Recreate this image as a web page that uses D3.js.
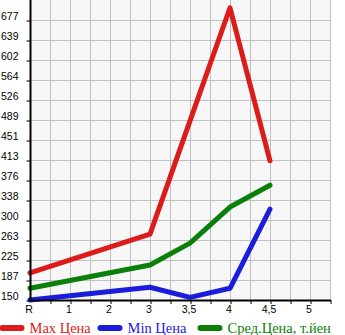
<!DOCTYPE html>
<html><head><meta charset="utf-8">
<script src="https://cdn.jsdelivr.net/npm/d3@7"></script>
<style>body{margin:0;background:#fff}svg{display:block}</style>
</head><body>
<svg id="c" width="345" height="335"></svg>
<script>
const categories = ["R","1","2","3","3,5","4","4,5","5"];
const yLabels = ["150","187","225","263","300","338","376","413","451","489","526","564","602","639","677"];
const maxPrice = [201, null, null, 274, 487, 700, 412];
const minPrice = [150, null, null, 174, 155, 172, 321];
const avgPrice = [172, null, null, 216, 257, 325, 366];
const seriesNames = ["Max Цена","Min Цена","Сред.Цена, т.йен"];
const seriesColors = ["#dc1b1b","#1c1cdc","#0a800a"];

const svg = d3.select("#c");
const x = d3.scaleLinear().domain([0, 7.5]).range([30, 330]);
const y = d3.scaleLinear().domain([150, 677]).range([300, 20]);
const yVals = yLabels.map((d,i)=>150 + i*(527/14));

// plot background
svg.append("rect").attr("x",x(0)).attr("y",0).attr("width",x(7.5)-x(0)).attr("height",y(150))
  .attr("fill","#f7f7f7");
// grid
const grid = svg.append("g").attr("stroke","#c0c0c0").attr("stroke-width",1);
d3.range(0.5, 7.51, 0.5).forEach(v=>{
  grid.append("line").attr("x1",Math.round(x(v))+0.5).attr("x2",Math.round(x(v))+0.5).attr("y1",0).attr("y2",y(150));
});
yVals.slice(1).forEach(v=>{
  grid.append("line").attr("x1",x(0)).attr("x2",x(7.5)+1).attr("y1",Math.round(y(v))+0.5).attr("y2",Math.round(y(v))+0.5);
});

// lines
const series = [maxPrice, minPrice, avgPrice];
const line = d3.line().defined(d=>d[1]!=null).x(d=>x(d[0])).y(d=>y(d[1]));
series.forEach((s,k)=>{
  const pts = s.map((v,i)=>[i,v]).filter(d=>d[1]!=null);
  svg.append("path").datum(pts).attr("d",line).attr("fill","none")
    .attr("stroke",seriesColors[k]).attr("stroke-width",5)
    .attr("stroke-linecap","round").attr("stroke-linejoin","round");
});

// y axis
const yAxis = d3.axisLeft(y).tickValues(yVals).tickFormat((d,i)=>yLabels[i]).tickSize(4).tickPadding(8);
const gy = svg.append("g").attr("transform","translate(30.5,0.5)").call(yAxis);
gy.select(".domain").remove();
gy.selectAll("line").attr("stroke","#000");
gy.selectAll("text").attr("dy","-0.05em").attr("font-family","Liberation Sans, Arial, sans-serif").attr("font-size","10.5px").attr("fill","#000");
svg.append("line").attr("x1",30.5).attr("x2",30.5).attr("y1",0).attr("y2",301).attr("stroke","#000").attr("stroke-width",2);

// x axis ticks
const xTicks = d3.axisBottom(x).tickValues(d3.range(0.5,7.51,0.5)).tickFormat("").tickSize(4);
const gx = svg.append("g").attr("transform","translate(0.5,300)").call(xTicks);
gx.select(".domain").remove();
gx.selectAll("line").attr("stroke","#000");
svg.append("line").attr("x1",29.5).attr("x2",331).attr("y1",300.5).attr("y2",300.5).attr("stroke","#000").attr("stroke-width",2);
// x labels
const xLab = d3.axisBottom(x).tickValues(d3.range(categories.length)).tickFormat((d,i)=>categories[i]).tickSize(0).tickPadding(0);
const gl = svg.append("g").attr("transform","translate(-1.5,306)").call(xLab);
gl.select(".domain").remove();
gl.selectAll("text").attr("dy","0.71em").attr("font-family","Liberation Sans, Arial, sans-serif").attr("font-size","10.5px").attr("fill","#000");

// legend
const legX = [2.5, 100.5, 200.5];
seriesNames.forEach((n,k)=>{
  svg.append("line").attr("x1",legX[k]).attr("x2",legX[k]+19).attr("y1",328).attr("y2",328)
    .attr("stroke",seriesColors[k]).attr("stroke-width",6).attr("stroke-linecap","round");
  svg.append("text").attr("x",legX[k]+27).attr("y",332.5).text(n)
    .attr("font-family","Liberation Serif, Times New Roman, serif").attr("font-size","14.5px").attr("fill",seriesColors[k]);
});
</script>
</body></html>
